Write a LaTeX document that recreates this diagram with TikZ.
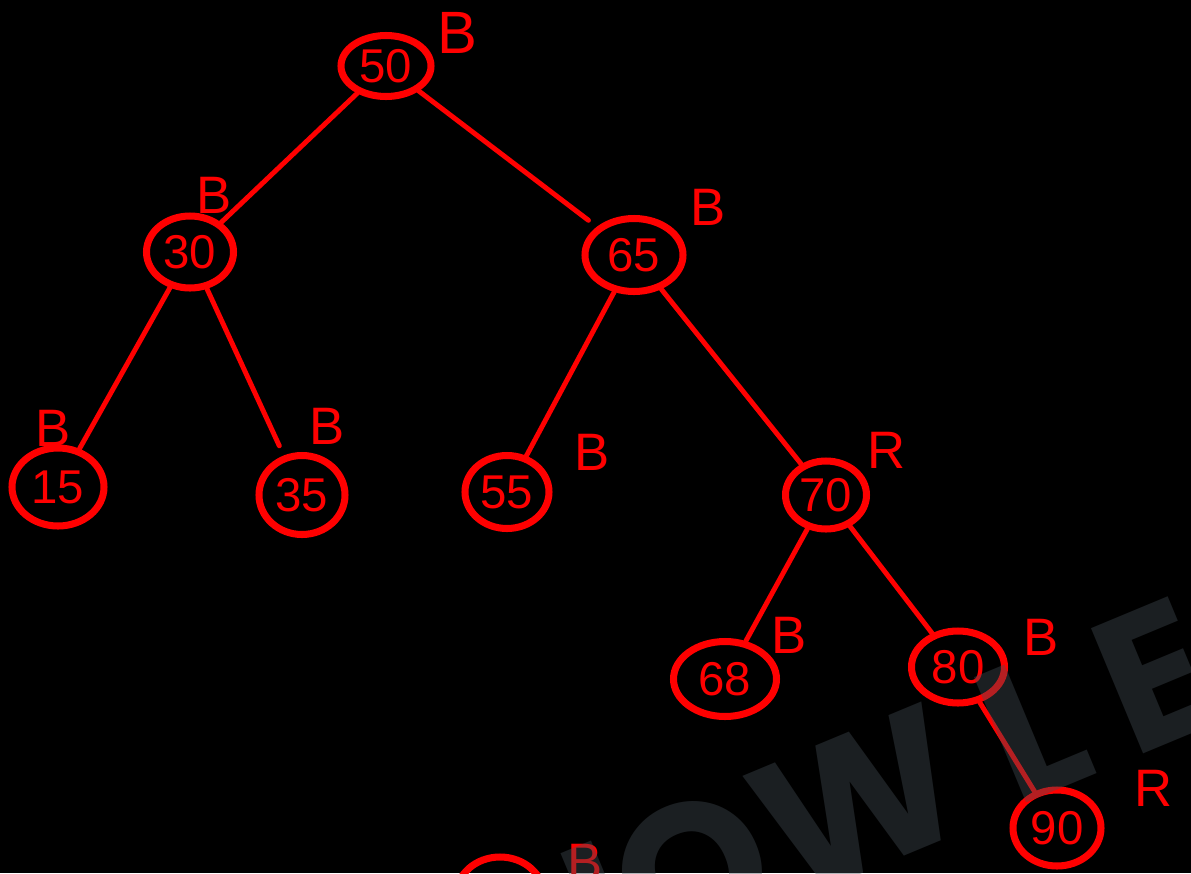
\documentclass[tikz,border=0pt]{standalone}
\usepackage{fontspec}
\setmainfont{Liberation Sans}
\newfontfamily\wmfont{Poppins}
\usetikzlibrary{shapes.geometric}
\definecolor{inkred}{RGB}{255,0,0}
\definecolor{wmgray}{RGB}{68,78,85}
\tikzset{
  rbn/.style={ellipse,draw=inkred,line width=4pt,inner sep=0pt,text=inkred,font=\fontsize{27}{29}\selectfont},
  sz/.style 2 args={minimum width={#1*0.02cm},minimum height={#2*0.02cm}},
  tag/.style={text=inkred,font=\fontsize{30}{32}\selectfont,inner sep=0pt},
  link/.style={draw=inkred,line width=2.8pt,line cap=round},
  wm/.style={text=wmgray,opacity=0.4,font=\wmfont\bfseries\fontsize{110}{110}\selectfont,rotate=22.6,anchor=base west,inner sep=0pt},
}
\begin{document}
\begin{tikzpicture}[x=0.02cm,y=-0.02cm]
  \useasboundingbox (0,0) rectangle (1191,873);
  \clip (0,0) rectangle (1191,873);
  \fill[black] (0,0) rectangle (1191,873);
  % tree nodes
  \node[rbn,sz={90}{61}](n50) at (386,66){50};
  \node[rbn,sz={87}{72}](n30) at (190,252){30};
  \node[rbn,sz={98}{73}](n65) at (634,255){65};
  \node[rbn,sz={92}{78}](n15) at (58,487){15};
  \node[rbn,sz={86}{79}](n35) at (302,495){35};
  \node[rbn,sz={84}{73}](n55) at (507,492){55};
  \node[rbn,sz={81}{68}](n70) at (826,495){70};
  \node[rbn,sz={103}{75}](n68) at (725,679){68};
  \node[rbn,sz={93}{72}](n80) at (958,667){80};
  \node[rbn,sz={88}{76}](n90) at (1057,828){90};
  \node[rbn,sz={88}{78}](nlow) at (500,896){};
  % colour tags
  \node[tag,font=\fontsize{34}{36}\selectfont](t50) at (457,33){B};
  \node[tag](t30) at (214,195){B};
  \node[tag](t65) at (708,207){B};
  \node[tag](t15) at (53,428){B};
  \node[tag](t35) at (327,426){B};
  \node[tag](t55) at (592,452){B};
  \node[tag](t70) at (887,450){R};
  \node[tag](t68) at (789,635){B};
  \node[tag](t80) at (1041,637){B};
  \node[tag](t90) at (1154,788){R};
  \node[tag](tlow) at (585,862){B};
  % edges
  \draw[link] (n50)--(n30); \draw[link,shorten >=6pt] (n50)--(n65);
  \draw[link] (n30)--(n15); \draw[link,shorten >=6pt] (n30)--(n35);
  \draw[link] (n65)--(n55); \draw[link] (n65)--(n70);
  \draw[link] (n70)--(n68); \draw[link] (n70)--(n80);
  \draw[link] (n80)--(n90);
  % watermark
  \node[wm](wN) at (520,1018){N}; \node[wm](wO) at (648,964){O};
  \node[wm](wW) at (790,904){W}; \node[wm](wL) at (1015,808){L};
  \node[wm](wE) at (1132,759){E};
\end{tikzpicture}
\end{document}
